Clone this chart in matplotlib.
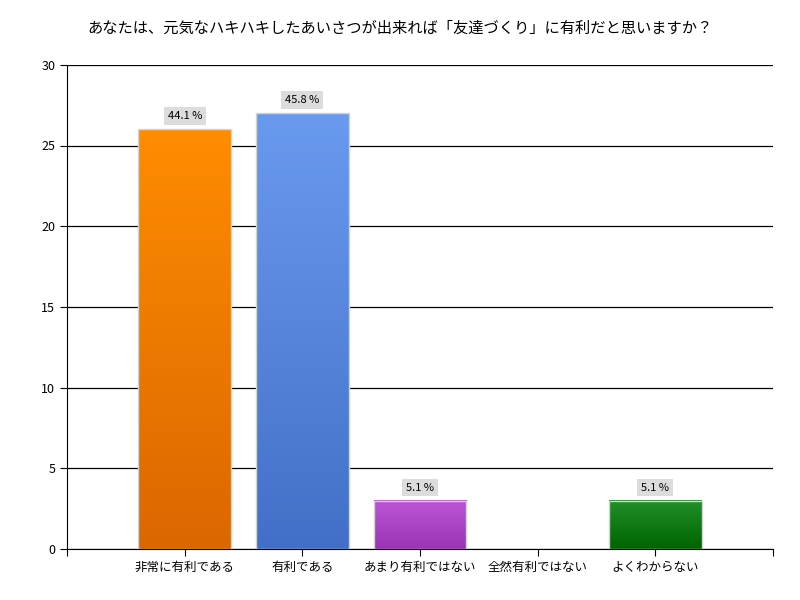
import numpy as np
import matplotlib.pyplot as plt
from matplotlib.colors import LinearSegmentedColormap

plt.rcParams['font.family'] = ['Noto Sans CJK JP', 'DejaVu Sans']

# data
categories = ["非常に有利である", "有利である", "あまり有利ではない", "全然有利ではない", "よくわからない"]
counts = [26, 27, 3, 0, 3]
top_colors = ["#FF8C00", "#6A9AEE", "#BC56D6", "#22902A", "#22902A"]
bottom_colors = ["#DB6700", "#4270C8", "#9A34B4", "#006400", "#006400"]
title = "あなたは、元気なハキハキしたあいさつが出来れば「友達づくり」に有利だと思いますか？"

total = sum(counts)
x = np.arange(1, len(categories) + 1)
width = 0.79

fig = plt.figure(figsize=(8, 6), dpi=100)
ax = fig.add_axes([0.084, 0.085, 0.882, 0.807])

ax.set_xticks(range(0, len(categories) + 2))
ax.set_xticklabels([""] + categories + [""], fontsize=9)
ax.set_yticks(range(0, 31, 5))
ax.tick_params(axis="y", labelsize=9, length=5)
ax.tick_params(axis="x", length=5)
ax.grid(axis="y", color="black", linewidth=0.9)
ax.set_axisbelow(True)
for s in ["top", "right"]:
    ax.spines[s].set_visible(False)

grad = np.linspace(1, 0, 256).reshape(-1, 1)
for xi, c, top, bot in zip(x, counts, top_colors, bottom_colors):
    if c == 0:
        continue
    cmap = LinearSegmentedColormap.from_list("g", [bot, top])
    ax.imshow(grad, extent=(xi - width / 2, xi + width / 2, 0, c), aspect="auto",
              cmap=cmap, vmin=0, vmax=1, zorder=2)
    ax.bar(xi, c, width=width, facecolor="none", edgecolor="#D3D3D3", linewidth=1, zorder=3)
    ax.text(xi, c + 0.5, "%.1f %%" % (c / total * 100), ha="center", va="bottom", fontsize=8,
            bbox=dict(boxstyle="square,pad=0.35", facecolor="#DCDCDC", edgecolor="none"), zorder=4)

ax.set_xlim(0, len(categories) + 1)
ax.set_ylim(0, 30)
fig.text(0.5, 0.953, title, ha="center", va="center", fontsize=11)

fig.savefig("out.png")
